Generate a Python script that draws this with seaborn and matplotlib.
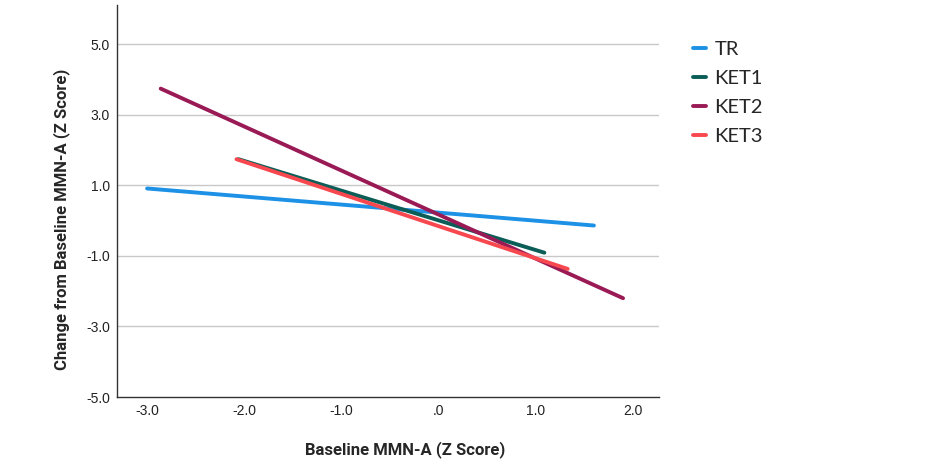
import pandas as pd
import numpy as np
import seaborn as sns
import matplotlib.pyplot as plt

# fitted lines: start/end points per group
groups = ['TR', 'KET1', 'KET2', 'KET3']
x_start = [-3.00, -2.06, -2.86, -2.08]
x_end = [1.60, 1.09, 1.90, 1.33]
y_start = [0.91, 1.74, 3.74, 1.74]
y_end = [-0.14, -0.91, -2.20, -1.37]

x_ticks = [-3.0, -2.0, -1.0, 0.0, 1.0, 2.0]
x_tick_labels = ['-3.0', '-2.0', '-1.0', '.0', '1.0', '2.0']
y_ticks = [5.0, 3.0, 1.0, -1.0, -3.0, -5.0]
y_tick_labels = ['5.0', '3.0', '1.0', '-1.0', '-3.0', '-5.0']

colors = {'TR': '#1c91e6', 'KET1': '#0b5d57', 'KET2': '#9a1a55', 'KET3': '#f8484f'}

rows = []
for g, xs, xe, ys, ye in zip(groups, x_start, x_end, y_start, y_end):
    rows.append({'group': g, 'x': xs, 'y': ys})
    rows.append({'group': g, 'x': xe, 'y': ye})
df = pd.DataFrame(rows)

sns.set_style('white')
plt.rcParams['font.family'] = ['Liberation Sans', 'DejaVu Sans']

fig = plt.figure(figsize=(9.47, 4.65), dpi=100)
ax = fig.add_axes([117 / 947, 1 - 397 / 465, (659 - 117) / 947, (397 - 5) / 465])

for y in y_ticks[:-1]:
    ax.axhline(y, color='#c8c8c8', lw=1, zorder=0)

sns.lineplot(data=df, x='x', y='y', hue='group', hue_order=groups,
             palette=colors, linewidth=2.8, ax=ax, estimator=None, sort=False)

ax.set_xlim(-3.31, 2.27)
ax.set_ylim(-5.0, 6.11)
ax.set_xticks(x_ticks)
ax.set_xticklabels(x_tick_labels, fontsize=10, color='#222222')
ax.set_yticks(y_ticks)
ax.set_yticklabels(y_tick_labels, fontsize=10, color='#222222')
ax.tick_params(length=0, pad=5)

for s in ['top', 'right']:
    ax.spines[s].set_visible(False)
for s in ['left', 'bottom']:
    ax.spines[s].set_color('#333333')
    ax.spines[s].set_linewidth(1)

ax.set_xlabel('Baseline MMN-A (Z Score)', fontsize=12, fontweight='bold',
              family=['Roboto', 'DejaVu Sans'])
ax.set_ylabel('Change from Baseline MMN-A (Z Score)', fontsize=12, fontweight='bold',
              family=['Roboto', 'DejaVu Sans'])
ax.xaxis.set_label_coords((405 - 117) / 542, -(441 - 397) / 392)
ax.yaxis.set_label_coords(-(117 - 70) / 542, (397 - 219) / 392)

handles, labels = ax.get_legend_handles_labels()
ax.legend(handles, labels, loc='upper left', bbox_to_anchor=(675 / 947, 1 - 23 / 465),
          bbox_transform=fig.transFigure, frameon=False,
          handlelength=0.65, handletextpad=0.4, labelspacing=0.58,
          prop={'family': ['Lato', 'DejaVu Sans'], 'size': 14.5})

fig.savefig('out.png', dpi=100)
